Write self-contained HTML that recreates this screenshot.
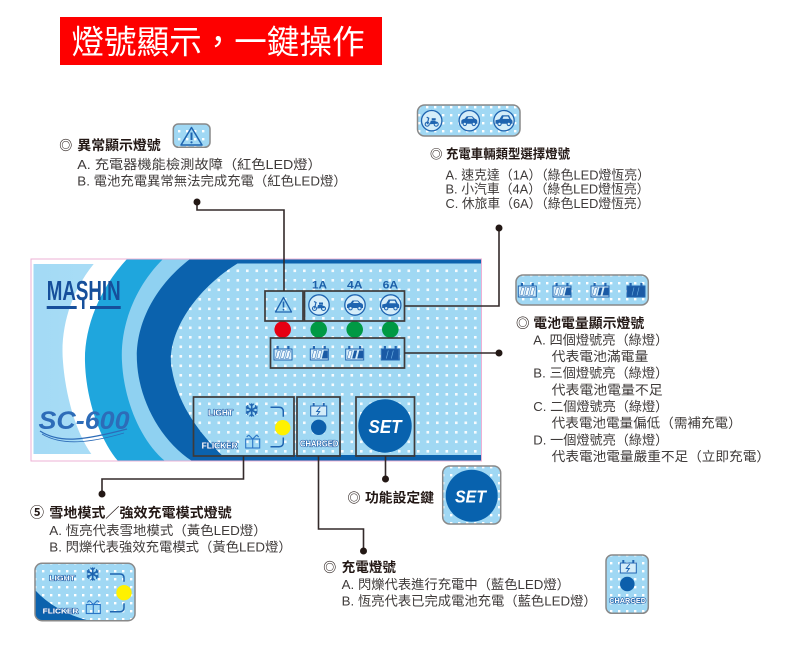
<!DOCTYPE html>
<html><head><meta charset="utf-8">
<style>
html,body{margin:0;padding:0;background:#fff;}
svg{display:block;}
text{font-family:"Liberation Sans","Noto Sans CJK TC",sans-serif;}
.b{font-weight:bold;fill:#231815;}
.t{fill:#3e3a39;}
.lbl{font-weight:bold;fill:#ffffff;stroke:#1f5fa8;stroke-width:1.3;paint-order:stroke;stroke-linejoin:round;}
</style></head><body>
<svg width="800" height="655" viewBox="0 0 800 655" xmlns="http://www.w3.org/2000/svg">
<defs>
<pattern id="dots" patternUnits="userSpaceOnUse" x="265" y="279" width="9.5" height="9.5"><rect width="2.6" height="2.6" fill="#fff" opacity="0.9"/></pattern>
<pattern id="dots2" patternUnits="userSpaceOnUse" x="0" y="0" width="8" height="8"><rect x="2" y="2" width="2.4" height="2.4" fill="#fff"/></pattern>
<clipPath id="pc"><rect x="31" y="259" width="450.5" height="202"/></clipPath>
<clipPath id="ic"><path d="M245,259 C190,290 165,340 172,370 C178,405 200,435 228,461 L482,461 L482,259 Z"/></clipPath>
<clipPath id="c4"><rect x="35" y="563.3" width="100" height="57.4" rx="7"/></clipPath>
<linearGradient id="lg" x1="0" x2="1"><stop offset="0" stop-color="#a3daf5"/><stop offset="1" stop-color="#cdebfa"/></linearGradient>

<g id="vc"><circle r="10.2" fill="#d5edf9" stroke="#1f64b0" stroke-width="1.3"/></g>
<g id="v1"><use href="#vc"/>
 <circle cx="-4.5" cy="3.5" r="2" fill="none" stroke="#1f64b0" stroke-width="1.1"/>
 <circle cx="4.5" cy="3.5" r="2" fill="none" stroke="#1f64b0" stroke-width="1.1"/>
 <path d="M-2,3.5 L-1,0 L3,0 L5.5,1.5 L5.5,3 Z" fill="#1f64b0"/>
 <path d="M-4.5,3.5 L-3,-2.5 L-5,-3.5" stroke="#1f64b0" stroke-width="1.2" fill="none"/>
 <rect x="0" y="-2.5" width="4" height="2.2" fill="#1f64b0"/></g>
<g id="v2"><use href="#vc"/>
 <path d="M-8,3 V0 Q-7.5,-1.5 -4.5,-2 L-2.5,-4.5 H3 L5.5,-2 Q8,-1.5 8,0.5 V3 Z" fill="#1f64b0"/>
 <path d="M-2,-2 L-1,-3.6 H2.6 L4,-2 Z" fill="#d5edf9"/>
 <circle cx="-4.5" cy="3.2" r="1.7" fill="#d5edf9" stroke="#1f64b0" stroke-width="1"/>
 <circle cx="4.5" cy="3.2" r="1.7" fill="#d5edf9" stroke="#1f64b0" stroke-width="1"/></g>
<g id="v3"><use href="#vc"/>
 <path d="M-8.5,3 V-0.5 L-4.5,-1.5 L-2,-5.5 H5 L7,-1.5 Q8.5,-1 8.5,1 V3 Z" fill="#1f64b0"/>
 <path d="M-1.5,-1.8 L-0.5,-4.2 H4 L5.3,-1.8 Z" fill="#d5edf9"/>
 <circle cx="-4.5" cy="3.2" r="1.7" fill="#d5edf9" stroke="#1f64b0" stroke-width="1"/>
 <circle cx="4.8" cy="3.2" r="1.7" fill="#d5edf9" stroke="#1f64b0" stroke-width="1"/></g>

<g id="bb">
 <rect x="-6.5" y="-8" width="2.2" height="3" fill="#2266b2"/>
 <rect x="4.3" y="-8" width="2.2" height="3" fill="#2266b2"/>
 <rect x="-9" y="-5" width="18" height="11" fill="#d3ecf9" stroke="#2266b2" stroke-width="1"/></g>
<g id="b0"><use href="#bb"/>
 <polygon points="-7.5,4.5 -5.5,-3.5 -2.5,-3.5 -4.5,4.5" fill="#eef8fd" stroke="#2266b2" stroke-width="0.5"/>
 <polygon points="-2.5,4.5 -0.5,-3.5 2.5,-3.5 0.5,4.5" fill="#eef8fd" stroke="#2266b2" stroke-width="0.5"/>
 <polygon points="2.5,4.5 4.5,-3.5 7.5,-3.5 5.5,4.5" fill="#eef8fd" stroke="#2266b2" stroke-width="0.5"/></g>
<g id="b1"><use href="#bb"/>
 <polygon points="-7.5,4.5 -5.5,-3.5 -2.5,-3.5 -4.5,4.5" fill="#eef8fd" stroke="#2266b2" stroke-width="0.5"/>
 <polygon points="-2.5,4.5 -0.5,-3.5 2.5,-3.5 0.5,4.5" fill="#eef8fd" stroke="#2266b2" stroke-width="0.5"/>
 <polygon points="2.5,4.5 4.5,-3.5 8.5,-3.5 8.5,4.5" fill="#1a5aa5"/></g>
<g id="b2"><use href="#bb"/>
 <polygon points="-7.5,4.5 -5.5,-3.5 -2.5,-3.5 -4.5,4.5" fill="#eef8fd" stroke="#2266b2" stroke-width="0.5"/>
 <polygon points="-2.5,4.5 -0.5,-3.5 2.5,-3.5 0.5,4.5" fill="#1a5aa5"/>
 <polygon points="2.5,4.5 4.5,-3.5 8.5,-3.5 8.5,4.5" fill="#1a5aa5"/></g>
<g id="b3"><use href="#bb"/>
 <rect x="-8.5" y="-4.5" width="17" height="10" fill="#1a5aa5"/>
 <line x1="-4" y1="4.5" x2="-2" y2="-3.5" stroke="#6fb3e6" stroke-width="0.6"/>
 <line x1="1" y1="4.5" x2="3" y2="-3.5" stroke="#6fb3e6" stroke-width="0.6"/></g>
<g id="bc">
 <rect x="-6" y="-8" width="2" height="3" fill="#2266b2"/>
 <rect x="4" y="-8" width="2" height="3" fill="#2266b2"/>
 <rect x="-8" y="-5" width="16" height="10" fill="#d3ecf9" stroke="#2266b2" stroke-width="1"/>
 <polyline points="1.5,-4 -2,0.5 1,0.5 -1.5,4" fill="none" stroke="#2266b2" stroke-width="1"/></g>
<g id="snow" stroke="#1f64b0" stroke-width="1.6" fill="none" stroke-linecap="round">
 <line x1="0" y1="-6" x2="0" y2="6"/><line x1="-5.2" y1="-3" x2="5.2" y2="3"/><line x1="-5.2" y1="3" x2="5.2" y2="-3"/>
 <path d="M-2,-6 L0,-4 L2,-6 M-2,6 L0,4 L2,6 M-5.5,-1 L-3.5,-2 L-4,-4.5 M5.5,1 L3.5,2 L4,4.5 M-5.5,1 L-3.5,2 L-4,4.5 M5.5,-1 L3.5,-2 L4,-4.5" stroke-width="1.1"/></g>
<g id="gift" fill="none" stroke-width="1.1">
 <rect x="-7" y="-3" width="14" height="9"/><line x1="0" y1="-3" x2="0" y2="6"/>
 <path d="M0,-3 L-4,-7 M0,-3 L4,-7 M-4,-7 L-6,-5 M4,-7 L6,-5"/></g>
</defs>

<!-- Title -->
<rect x="60" y="17" width="322" height="48" fill="#fe0000"/>
<text x="71.5" y="53.5" font-size="33" fill="#fff" textLength="293" lengthAdjust="spacingAndGlyphs">燈號顯示，一鍵操作</text>

<!-- Panel -->
<rect x="31" y="259" width="450.5" height="202" fill="#fff"/>
<g clip-path="url(#pc)">
 <rect x="33.5" y="264" width="448" height="190" fill="url(#lg)"/>
 <path d="M98,259 C70,290 60,330 63,362 C66,400 78,440 97,461 L482,461 L482,259 Z" fill="#ffffff"/>
 <path d="M127,259 C98,290 84,330 85,362 C86,400 100,440 118,461 L482,461 L482,259 Z" fill="#1fa6dd"/>
 <path d="M163,259 C132,290 120,330 122,362 C124,400 140,440 165,461 L482,461 L482,259 Z" fill="#8fd1f1"/>
 <path d="M190,259 C150,290 135,330 137,362 C139,400 160,440 192,461 L482,461 L482,259 Z" fill="#0b62ad"/>
 <g clip-path="url(#ic)">
  <rect x="31" y="259" width="451" height="202" fill="#a0d8f3"/>
  <rect x="31" y="259" width="451" height="202" fill="url(#dots)"/>
 </g>
 <rect x="190" y="259" width="292" height="4.5" fill="#0b62ad"/>
 <rect x="192" y="455" width="290" height="6" fill="#0b62ad"/>

 <!-- logo -->
 <text x="46.7" y="300" font-size="28" font-weight="bold" fill="#164f9b" textLength="74" lengthAdjust="spacingAndGlyphs">MASHIN</text>
 <rect x="46.7" y="306" width="30" height="3" fill="#164f9b"/>
 <rect x="90" y="306" width="30.7" height="3" fill="#164f9b"/>
 <rect x="82" y="299" width="2.5" height="10" fill="#164f9b"/>
 <text x="38.5" y="429" font-size="25" font-style="italic" font-weight="bold" fill="#2d6cb8" textLength="91" lengthAdjust="spacingAndGlyphs">SC-600</text>
 <path d="M40,431 C60,444 85,440 127,429" fill="none" stroke="#2d6cb8" stroke-width="1.3"/>
 <path d="M42,434 C62,446 90,443 124,433" fill="none" stroke="#2d6cb8" stroke-width="0.8"/>
</g>
<rect x="31" y="259" width="450.5" height="202" fill="none" stroke="#eeb0d4" stroke-width="1"/>

<!-- Panel contents -->
<text x="312" y="288.5" font-size="11" font-weight="bold" fill="#1b5ea8" textLength="15" lengthAdjust="spacingAndGlyphs">1A</text>
<text x="347" y="288.5" font-size="11" font-weight="bold" fill="#1b5ea8" textLength="15.5" lengthAdjust="spacingAndGlyphs">4A</text>
<text x="382.7" y="288.5" font-size="11" font-weight="bold" fill="#1b5ea8" textLength="15.5" lengthAdjust="spacingAndGlyphs">6A</text>

<polygon points="283.5,297.5 275.5,312 291.5,312" fill="none" stroke="#1f64b0" stroke-width="1.3" stroke-linejoin="round"/>
<line x1="283.5" y1="301.5" x2="283.5" y2="307.5" stroke="#1f64b0" stroke-width="1.6"/>
<circle cx="283.5" cy="309.8" r="0.9" fill="#1f64b0"/>
<use href="#v1" x="319" y="305"/>
<use href="#v2" x="355" y="305"/>
<use href="#v3" x="390.7" y="305"/>

<circle cx="282.7" cy="329.5" r="8.3" fill="#e60012"/>
<circle cx="318.7" cy="329.5" r="8.3" fill="#009944"/>
<circle cx="354.7" cy="329.5" r="8.3" fill="#009944"/>
<circle cx="390.3" cy="329.5" r="8.3" fill="#009944"/>

<use href="#b0" x="283" y="354"/>
<use href="#b1" x="319.3" y="354"/>
<use href="#b2" x="354.7" y="354"/>
<use href="#b3" x="390.3" y="354"/>

<text x="208" y="415.5" font-size="8" class="lbl" textLength="25" lengthAdjust="spacingAndGlyphs">LIGHT</text>
<use href="#snow" x="251.7" y="410"/>
<text x="201.7" y="448.5" font-size="8" class="lbl" textLength="36" lengthAdjust="spacingAndGlyphs">FLICKER</text>
<use href="#gift" x="252.7" y="442" stroke="#2a75c5"/>
<path d="M270.5,407.3 H279 Q283.3,407.3 283.3,411.5 V416.7 M283.3,437.5 V442.5 Q283.3,446.7 279,446.7 H270.5" fill="none" stroke="#1f64b0" stroke-width="1.5"/>
<circle cx="282.7" cy="427.7" r="7.7" fill="#fff100"/>

<use href="#bc" x="318.7" y="411"/>
<circle cx="318.7" cy="427.3" r="7.7" fill="#0d5fab"/>
<text x="300" y="446.5" font-size="8" class="lbl" textLength="38.3" lengthAdjust="spacingAndGlyphs">CHARGED</text>

<circle cx="385" cy="426" r="26.7" fill="#0862ae"/>
<text x="368.5" y="433" font-size="18" font-weight="bold" font-style="italic" fill="#fff" textLength="33" lengthAdjust="spacingAndGlyphs">SET</text>

<g fill="none" stroke="#3e3a39" stroke-width="1.7">
 <rect x="265" y="291" width="38" height="30"/>
 <rect x="304.5" y="291" width="100" height="30"/>
 <rect x="270.5" y="338" width="134" height="30"/>
 <rect x="193.5" y="397" width="100.5" height="59"/>
 <rect x="297" y="397" width="43" height="59"/>
 <rect x="356" y="397" width="58.5" height="59"/>
</g>

<!-- Connectors -->
<g fill="none" stroke="#332a2a" stroke-width="1.6">
 <path d="M197,202 V210 H284 V291"/>
 <path d="M404.5,306 H499 V228"/>
 <path d="M404.5,353 H499"/>
 <path d="M243.5,456 V479 H102 V494"/>
 <path d="M318.5,456 V529 H363.5 V551"/>
 <path d="M385.5,456 V479"/>
</g>
<g fill="#231815">
 <circle cx="197" cy="202" r="3.5"/>
 <circle cx="499" cy="228" r="3.5"/>
 <circle cx="499" cy="353" r="3.5"/>
 <circle cx="102" cy="494" r="3.5"/>
 <circle cx="363.5" cy="551" r="3.5"/>
 <circle cx="385.5" cy="479" r="3.5"/>
</g>

<!-- Section 1 -->
<rect x="173.3" y="124" width="36.7" height="23.3" rx="5" fill="#a0d8f4"/>
<rect x="173.3" y="124" width="36.7" height="23.3" rx="5" fill="url(#dots2)"/>
<rect x="173.3" y="124" width="36.7" height="23.3" rx="5" fill="none" stroke="#898989" stroke-width="1.5"/>
<polygon points="191.5,127.5 181,145 202,145" fill="none" stroke="#1f64b0" stroke-width="1.5" stroke-linejoin="round"/>
<line x1="191.5" y1="132.5" x2="191.5" y2="140" stroke="#1f64b0" stroke-width="2"/>
<circle cx="191.5" cy="142.3" r="1.1" fill="#1f64b0"/>
<text x="59.3" y="150" font-size="13" class="b">◎</text>
<text x="77.3" y="150" font-size="13.5" class="b" textLength="83.4" lengthAdjust="spacingAndGlyphs">異常顯示燈號</text>
<text x="77.3" y="169" font-size="13.2" class="t" textLength="244.4" lengthAdjust="spacingAndGlyphs">A. 充電器機能檢測故障（紅色LED燈）</text>
<text x="77.3" y="185.5" font-size="13.2" class="t" textLength="269.4" lengthAdjust="spacingAndGlyphs">B. 電池充電異常無法完成充電（紅色LED燈）</text>

<!-- Section 2 -->
<rect x="417.5" y="105" width="102.5" height="31" rx="7" fill="#a0d8f4"/>
<rect x="417.5" y="105" width="102.5" height="31" rx="7" fill="url(#dots2)"/>
<rect x="417.5" y="105" width="102.5" height="31" rx="7" fill="none" stroke="#898989" stroke-width="1.5"/>
<use href="#v1" x="431.7" y="120.7"/>
<use href="#v2" x="469.3" y="120.7"/>
<use href="#v3" x="504" y="120.7"/>
<text x="430" y="158.5" font-size="12.5" class="b">◎</text>
<text x="446" y="158.5" font-size="12.8" class="b" textLength="124" lengthAdjust="spacingAndGlyphs">充電車輛類型選擇燈號</text>
<text x="445.5" y="179.5" font-size="12.8" class="t" textLength="204.5" lengthAdjust="spacingAndGlyphs">A. 速克達（1A）（綠色LED燈恆亮）</text>
<text x="445.5" y="193.7" font-size="12.8" class="t" textLength="204" lengthAdjust="spacingAndGlyphs">B. 小汽車（4A）（綠色LED燈恆亮）</text>
<text x="445.5" y="208" font-size="12.8" class="t" textLength="204" lengthAdjust="spacingAndGlyphs">C. 休旅車（6A）（綠色LED燈恆亮）</text>

<!-- Section 3 -->
<rect x="516" y="275" width="132.3" height="30" rx="7" fill="#a0d8f4"/>
<rect x="516" y="275" width="132.3" height="30" rx="7" fill="url(#dots2)"/>
<rect x="516" y="275" width="132.3" height="30" rx="7" fill="none" stroke="#898989" stroke-width="1.5"/>
<use href="#b0" x="527.3" y="291"/>
<use href="#b1" x="562" y="291"/>
<use href="#b2" x="600" y="291"/>
<use href="#b3" x="636" y="291"/>
<text x="516" y="328" font-size="13.5" class="b">◎</text>
<text x="533.3" y="328" font-size="13.5" class="b" textLength="111" lengthAdjust="spacingAndGlyphs">電池電量顯示燈號</text>
<text x="533.3" y="344.5" font-size="13.2" class="t" textLength="135" lengthAdjust="spacingAndGlyphs">A. 四個燈號亮（綠燈）</text>
<text x="551.7" y="361" font-size="13.2" class="t" textLength="96.6" lengthAdjust="spacingAndGlyphs">代表電池滿電量</text>
<text x="533.3" y="377.7" font-size="13.2" class="t" textLength="135" lengthAdjust="spacingAndGlyphs">B. 三個燈號亮（綠燈）</text>
<text x="551.7" y="394.5" font-size="13.2" class="t" textLength="111" lengthAdjust="spacingAndGlyphs">代表電池電量不足</text>
<text x="533.3" y="411" font-size="13.2" class="t" textLength="135" lengthAdjust="spacingAndGlyphs">C. 二個燈號亮（綠燈）</text>
<text x="551.7" y="427.7" font-size="13.2" class="t" textLength="190" lengthAdjust="spacingAndGlyphs">代表電池電量偏低（需補充電）</text>
<text x="533.3" y="444.5" font-size="13.2" class="t" textLength="135" lengthAdjust="spacingAndGlyphs">D. 一個燈號亮（綠燈）</text>
<text x="551.7" y="461" font-size="13.2" class="t" textLength="218.3" lengthAdjust="spacingAndGlyphs">代表電池電量嚴重不足（立即充電）</text>

<!-- Section 4 -->
<text x="30" y="517.5" font-size="14" class="b">⑤</text>
<text x="49.3" y="517.5" font-size="13.5" class="b" textLength="182.4" lengthAdjust="spacingAndGlyphs">雪地模式／強效充電模式燈號</text>
<text x="49.3" y="535" font-size="13.2" class="t" textLength="217.4" lengthAdjust="spacingAndGlyphs">A. 恆亮代表雪地模式（黃色LED燈）</text>
<text x="49.3" y="551.5" font-size="13.2" class="t" textLength="242.4" lengthAdjust="spacingAndGlyphs">B. 閃爍代表強效充電模式（黃色LED燈）</text>
<g clip-path="url(#c4)">
 <rect x="35" y="563.3" width="100" height="57.4" fill="#a0d8f4"/>
 <rect x="35" y="563.3" width="100" height="57.4" fill="url(#dots2)"/>
 <path d="M35,590 Q55,612 90,621 L35,621 Z" fill="#0b62ad"/>
</g>
<rect x="35" y="563.3" width="100" height="57.4" rx="7" fill="none" stroke="#898989" stroke-width="1.5"/>
<text x="49.3" y="580.5" font-size="7.5" class="lbl" textLength="25.7" lengthAdjust="spacingAndGlyphs">LIGHT</text>
<use href="#snow" x="92.7" y="574"/>
<text x="42.7" y="613.5" font-size="7.5" class="lbl" textLength="35.6" lengthAdjust="spacingAndGlyphs">FLICKER</text>
<use href="#gift" x="93.3" y="607.5" stroke="#2a75c5"/>
<path d="M110,574 H120 Q124,574 124,578 V581.7 M124,603.3 V607.5 Q124,611.7 120,611.7 H110" fill="none" stroke="#1f64b0" stroke-width="1.5"/>
<circle cx="124" cy="592.7" r="7.7" fill="#fff100"/>

<!-- Section 5 -->
<text x="347.5" y="502.5" font-size="13" class="b">◎</text>
<text x="365" y="502.5" font-size="13.5" class="b" textLength="69" lengthAdjust="spacingAndGlyphs">功能設定鍵</text>
<rect x="442.7" y="466" width="58" height="58" rx="7" fill="#a0d8f4"/>
<rect x="442.7" y="466" width="58" height="58" rx="7" fill="url(#dots2)"/>
<rect x="442.7" y="466" width="58" height="58" rx="7" fill="none" stroke="#898989" stroke-width="1.5"/>
<circle cx="471.7" cy="495.7" r="26" fill="#0862ae"/>
<text x="455" y="502.5" font-size="17.5" font-weight="bold" font-style="italic" fill="#fff" textLength="31" lengthAdjust="spacingAndGlyphs">SET</text>

<!-- Section 6 -->
<text x="323.3" y="572" font-size="13" class="b">◎</text>
<text x="341.7" y="572" font-size="13.5" class="b" textLength="54.3" lengthAdjust="spacingAndGlyphs">充電燈號</text>
<text x="341.7" y="589" font-size="13.2" class="t" textLength="228.3" lengthAdjust="spacingAndGlyphs">A. 閃爍代表進行充電中（藍色LED燈）</text>
<text x="341.7" y="605.5" font-size="13.2" class="t" textLength="255" lengthAdjust="spacingAndGlyphs">B. 恆亮代表已完成電池充電（藍色LED燈）</text>
<rect x="606" y="555" width="42.3" height="58.3" rx="6" fill="#a0d8f4"/>
<rect x="606" y="555" width="42.3" height="58.3" rx="6" fill="url(#dots2)"/>
<rect x="606" y="555" width="42.3" height="58.3" rx="6" fill="none" stroke="#898989" stroke-width="1.5"/>
<use href="#bc" x="628.3" y="568"/>
<circle cx="627.3" cy="584" r="7.3" fill="#0d5fab"/>
<text x="609.3" y="603" font-size="7.5" class="lbl" textLength="36.7" lengthAdjust="spacingAndGlyphs">CHARGED</text>
</svg>
</body></html>
